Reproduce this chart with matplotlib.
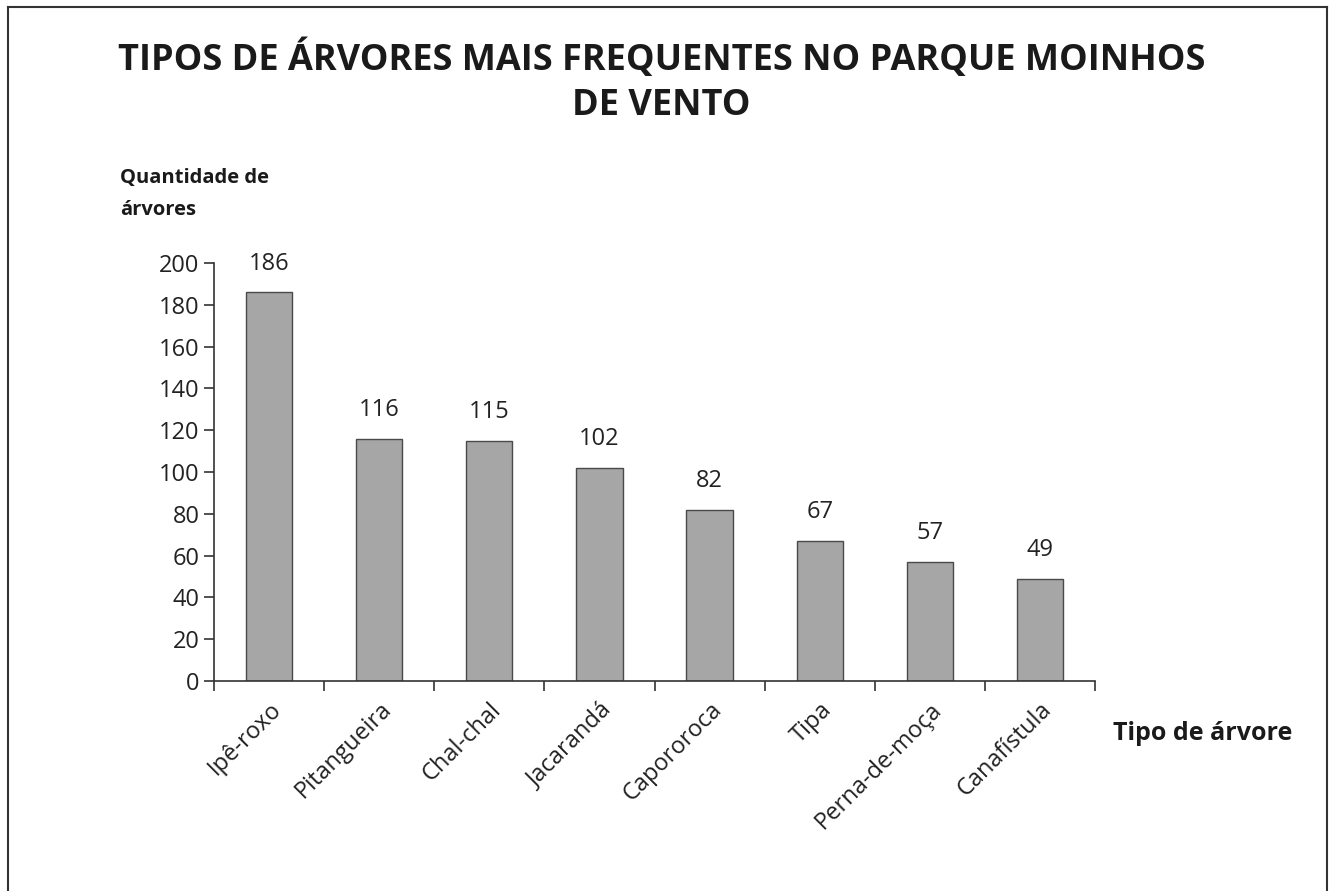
import matplotlib.pyplot as plt
from matplotlib.lines import Line2D

# data
especies = ["Ipê-roxo", "Pitangueira", "Chal-chal", "Jacarandá",
            "Capororoca", "Tipa", "Perna-de-moça", "Canafístula"]
quantidades = [186, 116, 115, 102, 82, 67, 57, 49]
y_ticks = list(range(0, 201, 20))

plt.rcParams['font.family'] = ['Open Sans', 'DejaVu Sans']

fig = plt.figure(figsize=(13.31, 8.91), dpi=100, facecolor='white')
ax = fig.add_axes([0.1608, 0.2357, 0.6619, 0.4691])

x = range(len(especies))
ax.bar(x, quantidades, width=0.42, color='#a6a6a6', edgecolor='#4a4a4a', linewidth=1.0)

for xi, v in zip(x, quantidades):
    ax.text(xi, v + 8, str(v), ha='center', va='bottom', fontsize=17, color='#222222')

ax.set_xlim(-0.5, len(especies) - 0.5)
ax.set_ylim(0, 200)
ax.set_yticks(y_ticks)
ax.tick_params(axis='y', labelsize=17, length=7, width=1.2, colors='#333333', labelcolor='#222222')

# ticks between the categories, labels at bar centers
ax.set_xticks([i - 0.5 for i in range(len(especies) + 1)])
ax.set_xticklabels([''] * (len(especies) + 1))
ax.tick_params(axis='x', length=7, width=1.2, colors='#333333')
ax.set_xticks(list(x), minor=True)
ax.set_xticklabels(especies, minor=True, rotation=45, ha='right', rotation_mode='anchor',
                   fontsize=17, color='#222222')
ax.tick_params(axis='x', which='minor', length=0, pad=12)

for side in ['top', 'right']:
    ax.spines[side].set_visible(False)
for side in ['left', 'bottom']:
    ax.spines[side].set_color('#333333')
    ax.spines[side].set_linewidth(1.2)

fig.text(0.497, 0.908, "TIPOS DE ÁRVORES MAIS FREQUENTES NO PARQUE MOINHOS\nDE VENTO",
         ha='center', va='center', fontsize=26, fontweight='bold', color='#1a1a1a',
         linespacing=1.35)
fig.text(0.09, 0.782, "Quantidade de\nárvores", ha='left', va='center', fontsize=14.5,
         fontweight='bold', color='#1a1a1a', linespacing=1.8)
fig.text(0.836, 0.177, "Tipo de árvore", ha='left', va='center', fontsize=18,
         fontweight='bold', color='#1a1a1a')

# outer frame (bottom edge falls outside the image)
frame = [([0.006, 0.006], [0.0, 0.992]), ([0.006, 0.997], [0.992, 0.992]),
         ([0.997, 0.997], [0.992, 0.0])]
for fx, fy in frame:
    fig.add_artist(Line2D(fx, fy, transform=fig.transFigure, color='#333333', linewidth=1.5))

fig.savefig('out.png', dpi=100, facecolor='white')
